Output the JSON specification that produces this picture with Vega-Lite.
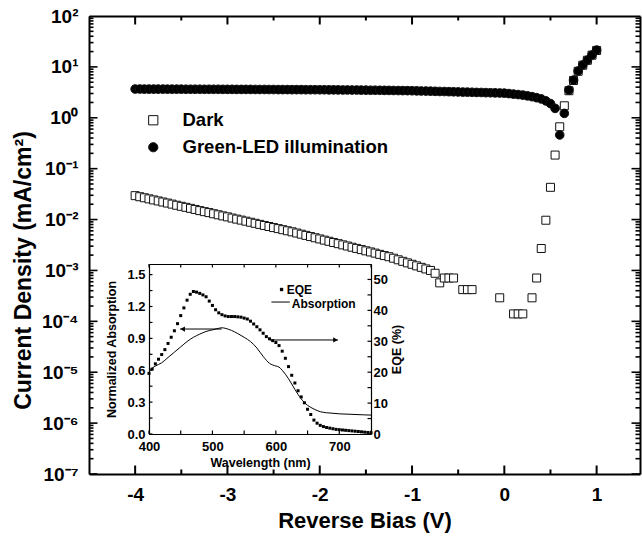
{
  "$schema": "https://vega.github.io/schema/vega-lite/v6.json",
  "width": 551,
  "height": 458,
  "autosize": {"type": "none"},
  "padding": {"left": 89, "top": 16, "right": 2, "bottom": 63},
  "background": "white",
  "config": {
    "view": {"stroke": null},
    "axis": {"grid": false, "labelFont": "Liberation Sans", "titleFont": "Liberation Sans", "labelFontWeight": "bold", "titleFontWeight": "bold", "labelColor": "black", "titleColor": "black", "domainColor": "black", "labelFlush": false, "labelOverlap": false},
    "text": {"font": "Liberation Sans"}
  },
  "datasets": {
    "main": [
      {"s":"Dark","v":-4.00,"j":0.0295},{"s":"Dark","v":-3.95,"j":0.0281},{"s":"Dark","v":-3.90,"j":0.0268},{"s":"Dark","v":-3.85,"j":0.0255},{"s":"Dark","v":-3.80,"j":0.0243},{"s":"Dark","v":-3.75,"j":0.0232},{"s":"Dark","v":-3.70,"j":0.0221},{"s":"Dark","v":-3.65,"j":0.0211},{"s":"Dark","v":-3.60,"j":0.0201},{"s":"Dark","v":-3.55,"j":0.0191},{"s":"Dark","v":-3.50,"j":0.0182},{"s":"Dark","v":-3.45,"j":0.0174},{"s":"Dark","v":-3.40,"j":0.0166},{"s":"Dark","v":-3.35,"j":0.0158},{"s":"Dark","v":-3.30,"j":0.0150},{"s":"Dark","v":-3.25,"j":0.0143},{"s":"Dark","v":-3.20,"j":0.0137},{"s":"Dark","v":-3.15,"j":0.0130},{"s":"Dark","v":-3.10,"j":0.0124},{"s":"Dark","v":-3.05,"j":0.0118},{"s":"Dark","v":-3.00,"j":0.0113},{"s":"Dark","v":-2.95,"j":0.0107},{"s":"Dark","v":-2.90,"j":0.0102},{"s":"Dark","v":-2.85,"j":0.00975},{"s":"Dark","v":-2.80,"j":0.00929},{"s":"Dark","v":-2.75,"j":0.00885},{"s":"Dark","v":-2.70,"j":0.00844},{"s":"Dark","v":-2.65,"j":0.00804},{"s":"Dark","v":-2.60,"j":0.00766},{"s":"Dark","v":-2.55,"j":0.00730},{"s":"Dark","v":-2.50,"j":0.00696},{"s":"Dark","v":-2.45,"j":0.00663},{"s":"Dark","v":-2.40,"j":0.00632},{"s":"Dark","v":-2.35,"j":0.00602},{"s":"Dark","v":-2.30,"j":0.00574},{"s":"Dark","v":-2.25,"j":0.00544},{"s":"Dark","v":-2.20,"j":0.00516},{"s":"Dark","v":-2.15,"j":0.00489},{"s":"Dark","v":-2.10,"j":0.00463},{"s":"Dark","v":-2.05,"j":0.00439},{"s":"Dark","v":-2.00,"j":0.00416},{"s":"Dark","v":-1.95,"j":0.00394},{"s":"Dark","v":-1.90,"j":0.00374},{"s":"Dark","v":-1.85,"j":0.00354},{"s":"Dark","v":-1.80,"j":0.00336},{"s":"Dark","v":-1.75,"j":0.00318},{"s":"Dark","v":-1.70,"j":0.00302},{"s":"Dark","v":-1.65,"j":0.00286},{"s":"Dark","v":-1.60,"j":0.00271},{"s":"Dark","v":-1.55,"j":0.00257},{"s":"Dark","v":-1.50,"j":0.00243},{"s":"Dark","v":-1.45,"j":0.00231},{"s":"Dark","v":-1.40,"j":0.00219},{"s":"Dark","v":-1.35,"j":0.00207},{"s":"Dark","v":-1.30,"j":0.00196},{"s":"Dark","v":-1.25,"j":0.00186},{"s":"Dark","v":-1.20,"j":0.00174},{"s":"Dark","v":-1.15,"j":0.00162},{"s":"Dark","v":-1.10,"j":0.00151},{"s":"Dark","v":-1.05,"j":0.00141},{"s":"Dark","v":-1.00,"j":0.00132},{"s":"Dark","v":-0.95,"j":0.00123},{"s":"Dark","v":-0.90,"j":0.00115},{"s":"Dark","v":-0.85,"j":0.00107},{"s":"Dark","v":-0.80,"j":0.00100},{"s":"Dark","v":-0.75,"j":0.00088},{"s":"Dark","v":-0.70,"j":0.00057},{"s":"Dark","v":-0.65,"j":0.00071},{"s":"Dark","v":-0.60,"j":0.00071},{"s":"Dark","v":-0.55,"j":0.00071},{"s":"Dark","v":-0.45,"j":0.00042},{"s":"Dark","v":-0.40,"j":0.00042},{"s":"Dark","v":-0.35,"j":0.00042},{"s":"Dark","v":-0.05,"j":0.00029},{"s":"Dark","v":0.10,"j":0.00014},{"s":"Dark","v":0.15,"j":0.00014},{"s":"Dark","v":0.20,"j":0.00014},{"s":"Dark","v":0.30,"j":0.00029},{"s":"Dark","v":0.35,"j":0.00071},{"s":"Dark","v":0.40,"j":0.0027},{"s":"Dark","v":0.45,"j":0.0097},{"s":"Dark","v":0.50,"j":0.043},{"s":"Dark","v":0.55,"j":0.185},{"s":"Dark","v":0.60,"j":0.665},{"s":"Dark","v":0.65,"j":1.72},{"s":"Dark","v":0.70,"j":3.4},{"s":"Dark","v":0.75,"j":5.4},{"s":"Dark","v":0.80,"j":8.2},{"s":"Dark","v":0.85,"j":10.8},{"s":"Dark","v":0.90,"j":13.5},{"s":"Dark","v":0.95,"j":17.0},{"s":"Dark","v":1.00,"j":21.0},
      {"s":"Green-LED illumination","v":-4.00,"j":3.67},{"s":"Green-LED illumination","v":-3.95,"j":3.67},{"s":"Green-LED illumination","v":-3.90,"j":3.66},{"s":"Green-LED illumination","v":-3.85,"j":3.66},{"s":"Green-LED illumination","v":-3.80,"j":3.66},{"s":"Green-LED illumination","v":-3.75,"j":3.66},{"s":"Green-LED illumination","v":-3.70,"j":3.66},{"s":"Green-LED illumination","v":-3.65,"j":3.65},{"s":"Green-LED illumination","v":-3.60,"j":3.65},{"s":"Green-LED illumination","v":-3.55,"j":3.65},{"s":"Green-LED illumination","v":-3.50,"j":3.65},{"s":"Green-LED illumination","v":-3.45,"j":3.64},{"s":"Green-LED illumination","v":-3.40,"j":3.64},{"s":"Green-LED illumination","v":-3.35,"j":3.64},{"s":"Green-LED illumination","v":-3.30,"j":3.64},{"s":"Green-LED illumination","v":-3.25,"j":3.63},{"s":"Green-LED illumination","v":-3.20,"j":3.63},{"s":"Green-LED illumination","v":-3.15,"j":3.63},{"s":"Green-LED illumination","v":-3.10,"j":3.63},{"s":"Green-LED illumination","v":-3.05,"j":3.62},{"s":"Green-LED illumination","v":-3.00,"j":3.62},{"s":"Green-LED illumination","v":-2.95,"j":3.62},{"s":"Green-LED illumination","v":-2.90,"j":3.61},{"s":"Green-LED illumination","v":-2.85,"j":3.61},{"s":"Green-LED illumination","v":-2.80,"j":3.61},{"s":"Green-LED illumination","v":-2.75,"j":3.61},{"s":"Green-LED illumination","v":-2.70,"j":3.60},{"s":"Green-LED illumination","v":-2.65,"j":3.60},{"s":"Green-LED illumination","v":-2.60,"j":3.60},{"s":"Green-LED illumination","v":-2.55,"j":3.59},{"s":"Green-LED illumination","v":-2.50,"j":3.59},{"s":"Green-LED illumination","v":-2.45,"j":3.58},{"s":"Green-LED illumination","v":-2.40,"j":3.58},{"s":"Green-LED illumination","v":-2.35,"j":3.58},{"s":"Green-LED illumination","v":-2.30,"j":3.57},{"s":"Green-LED illumination","v":-2.25,"j":3.57},{"s":"Green-LED illumination","v":-2.20,"j":3.57},{"s":"Green-LED illumination","v":-2.15,"j":3.56},{"s":"Green-LED illumination","v":-2.10,"j":3.56},{"s":"Green-LED illumination","v":-2.05,"j":3.56},{"s":"Green-LED illumination","v":-2.00,"j":3.55},{"s":"Green-LED illumination","v":-1.95,"j":3.55},{"s":"Green-LED illumination","v":-1.90,"j":3.54},{"s":"Green-LED illumination","v":-1.85,"j":3.54},{"s":"Green-LED illumination","v":-1.80,"j":3.53},{"s":"Green-LED illumination","v":-1.75,"j":3.52},{"s":"Green-LED illumination","v":-1.70,"j":3.52},{"s":"Green-LED illumination","v":-1.65,"j":3.51},{"s":"Green-LED illumination","v":-1.60,"j":3.51},{"s":"Green-LED illumination","v":-1.55,"j":3.50},{"s":"Green-LED illumination","v":-1.50,"j":3.49},{"s":"Green-LED illumination","v":-1.45,"j":3.48},{"s":"Green-LED illumination","v":-1.40,"j":3.48},{"s":"Green-LED illumination","v":-1.35,"j":3.47},{"s":"Green-LED illumination","v":-1.30,"j":3.46},{"s":"Green-LED illumination","v":-1.25,"j":3.45},{"s":"Green-LED illumination","v":-1.20,"j":3.44},{"s":"Green-LED illumination","v":-1.15,"j":3.43},{"s":"Green-LED illumination","v":-1.10,"j":3.42},{"s":"Green-LED illumination","v":-1.05,"j":3.41},{"s":"Green-LED illumination","v":-1.00,"j":3.40},{"s":"Green-LED illumination","v":-0.95,"j":3.38},{"s":"Green-LED illumination","v":-0.90,"j":3.36},{"s":"Green-LED illumination","v":-0.85,"j":3.35},{"s":"Green-LED illumination","v":-0.80,"j":3.33},{"s":"Green-LED illumination","v":-0.75,"j":3.31},{"s":"Green-LED illumination","v":-0.70,"j":3.29},{"s":"Green-LED illumination","v":-0.65,"j":3.28},{"s":"Green-LED illumination","v":-0.60,"j":3.26},{"s":"Green-LED illumination","v":-0.55,"j":3.24},{"s":"Green-LED illumination","v":-0.50,"j":3.22},{"s":"Green-LED illumination","v":-0.45,"j":3.20},{"s":"Green-LED illumination","v":-0.40,"j":3.19},{"s":"Green-LED illumination","v":-0.35,"j":3.17},{"s":"Green-LED illumination","v":-0.30,"j":3.15},{"s":"Green-LED illumination","v":-0.25,"j":3.14},{"s":"Green-LED illumination","v":-0.20,"j":3.12},{"s":"Green-LED illumination","v":-0.15,"j":3.10},{"s":"Green-LED illumination","v":-0.10,"j":3.09},{"s":"Green-LED illumination","v":-0.05,"j":3.07},{"s":"Green-LED illumination","v":0.00,"j":3.05},{"s":"Green-LED illumination","v":0.05,"j":2.99},{"s":"Green-LED illumination","v":0.10,"j":2.92},{"s":"Green-LED illumination","v":0.15,"j":2.86},{"s":"Green-LED illumination","v":0.20,"j":2.79},{"s":"Green-LED illumination","v":0.25,"j":2.70},{"s":"Green-LED illumination","v":0.30,"j":2.60},{"s":"Green-LED illumination","v":0.35,"j":2.48},{"s":"Green-LED illumination","v":0.40,"j":2.35},{"s":"Green-LED illumination","v":0.45,"j":2.15},{"s":"Green-LED illumination","v":0.50,"j":1.90},{"s":"Green-LED illumination","v":0.55,"j":1.53},{"s":"Green-LED illumination","v":0.60,"j":0.46},{"s":"Green-LED illumination","v":0.65,"j":1.22},{"s":"Green-LED illumination","v":0.70,"j":3.5},{"s":"Green-LED illumination","v":0.75,"j":5.5},{"s":"Green-LED illumination","v":0.80,"j":8.3},{"s":"Green-LED illumination","v":0.85,"j":10.9},{"s":"Green-LED illumination","v":0.90,"j":13.6},{"s":"Green-LED illumination","v":0.95,"j":17.1},{"s":"Green-LED illumination","v":1.00,"j":21.4}
    ],
    "abs": [
      {"w":400,"a":0.60},{"w":410,"a":0.64},{"w":420,"a":0.67},{"w":430,"a":0.72},{"w":440,"a":0.77},{"w":450,"a":0.82},{"w":460,"a":0.87},{"w":470,"a":0.91},{"w":480,"a":0.94},{"w":490,"a":0.965},{"w":500,"a":0.98},{"w":510,"a":0.995},{"w":515,"a":1.0},{"w":520,"a":0.995},{"w":530,"a":0.975},{"w":540,"a":0.945},{"w":550,"a":0.91},{"w":560,"a":0.87},{"w":570,"a":0.81},{"w":580,"a":0.73},{"w":590,"a":0.665},{"w":600,"a":0.64},{"w":605,"a":0.63},{"w":610,"a":0.60},{"w":620,"a":0.52},{"w":630,"a":0.42},{"w":640,"a":0.33},{"w":650,"a":0.27},{"w":660,"a":0.235},{"w":670,"a":0.21},{"w":680,"a":0.20},{"w":690,"a":0.195},{"w":700,"a":0.19},{"w":720,"a":0.185},{"w":740,"a":0.18},{"w":750,"a":0.178}
    ],
    "eqe": [
      {"w":400,"e":19.6},{"w":405,"e":21.0},{"w":410,"e":22.7},{"w":415,"e":24.2},{"w":420,"e":25.7},{"w":425,"e":27.3},{"w":430,"e":29.3},{"w":435,"e":31.3},{"w":440,"e":33.4},{"w":445,"e":35.7},{"w":450,"e":38.3},{"w":455,"e":40.8},{"w":460,"e":43.3},{"w":465,"e":45.2},{"w":470,"e":46.1},{"w":475,"e":45.9},{"w":480,"e":45.5},{"w":485,"e":45.0},{"w":490,"e":44.4},{"w":495,"e":43.0},{"w":500,"e":41.6},{"w":505,"e":40.2},{"w":510,"e":39.2},{"w":515,"e":38.6},{"w":520,"e":38.2},{"w":525,"e":38.0},{"w":530,"e":38.0},{"w":535,"e":38.0},{"w":540,"e":37.9},{"w":545,"e":37.8},{"w":550,"e":37.5},{"w":555,"e":37.2},{"w":560,"e":36.5},{"w":565,"e":35.6},{"w":570,"e":34.7},{"w":575,"e":33.7},{"w":580,"e":32.6},{"w":585,"e":31.5},{"w":590,"e":30.8},{"w":595,"e":30.2},{"w":600,"e":29.6},{"w":605,"e":28.6},{"w":610,"e":26.8},{"w":615,"e":24.5},{"w":620,"e":21.8},{"w":625,"e":19.0},{"w":630,"e":16.5},{"w":635,"e":14.0},{"w":640,"e":12.0},{"w":645,"e":10.1},{"w":650,"e":8.0},{"w":655,"e":6.3},{"w":660,"e":4.5},{"w":665,"e":3.5},{"w":670,"e":2.8},{"w":675,"e":2.4},{"w":680,"e":2.1},{"w":685,"e":1.9},{"w":690,"e":1.7},{"w":695,"e":1.5},{"w":700,"e":1.4},{"w":705,"e":1.3},{"w":710,"e":1.2},{"w":715,"e":1.1},{"w":720,"e":1.0},{"w":725,"e":0.9},{"w":730,"e":0.8},{"w":735,"e":0.7},{"w":740,"e":0.6},{"w":745,"e":0.5},{"w":750,"e":0.4}
    ],
    "rules": [
      {"x1":449,"x2":514.5,"y":0.988},{"x1":590.6,"x2":698,"y":0.885},{"x1":593,"x2":622,"y":1.242}
    ],
    "headL": [{"x":453,"y":0.988}],
    "headR": [{"x":694,"y":0.885}],
    "lmark": [{"x":609,"y":1.36}],
    "ltext": [{"x":617,"y":1.36,"t":"EQE"},{"x":625,"y":1.228,"t":"Absorption"}],
    "xt": [{"v":-4,"k":"M"},{"v":-3.5,"k":"m"},{"v":-3,"k":"M"},{"v":-2.5,"k":"m"},{"v":-2,"k":"M"},{"v":-1.5,"k":"m"},{"v":-1,"k":"M"},{"v":-0.5,"k":"m"},{"v":0,"k":"M"},{"v":0.5,"k":"m"},{"v":1,"k":"M"}],
    "yt": [
      {"j":1e-7,"k":"M"},{"j":2e-7,"k":"m"},{"j":3e-7,"k":"m"},{"j":4e-7,"k":"m"},{"j":5e-7,"k":"m"},{"j":6e-7,"k":"m"},{"j":7e-7,"k":"m"},{"j":8e-7,"k":"m"},{"j":9e-7,"k":"m"},
      {"j":1e-6,"k":"M"},{"j":2e-6,"k":"m"},{"j":3e-6,"k":"m"},{"j":4e-6,"k":"m"},{"j":5e-6,"k":"m"},{"j":6e-6,"k":"m"},{"j":7e-6,"k":"m"},{"j":8e-6,"k":"m"},{"j":9e-6,"k":"m"},
      {"j":1e-5,"k":"M"},{"j":2e-5,"k":"m"},{"j":3e-5,"k":"m"},{"j":4e-5,"k":"m"},{"j":5e-5,"k":"m"},{"j":6e-5,"k":"m"},{"j":7e-5,"k":"m"},{"j":8e-5,"k":"m"},{"j":9e-5,"k":"m"},
      {"j":1e-4,"k":"M"},{"j":2e-4,"k":"m"},{"j":3e-4,"k":"m"},{"j":4e-4,"k":"m"},{"j":5e-4,"k":"m"},{"j":6e-4,"k":"m"},{"j":7e-4,"k":"m"},{"j":8e-4,"k":"m"},{"j":9e-4,"k":"m"},
      {"j":1e-3,"k":"M"},{"j":2e-3,"k":"m"},{"j":3e-3,"k":"m"},{"j":4e-3,"k":"m"},{"j":5e-3,"k":"m"},{"j":6e-3,"k":"m"},{"j":7e-3,"k":"m"},{"j":8e-3,"k":"m"},{"j":9e-3,"k":"m"},
      {"j":0.01,"k":"M"},{"j":0.02,"k":"m"},{"j":0.03,"k":"m"},{"j":0.04,"k":"m"},{"j":0.05,"k":"m"},{"j":0.06,"k":"m"},{"j":0.07,"k":"m"},{"j":0.08,"k":"m"},{"j":0.09,"k":"m"},
      {"j":0.1,"k":"M"},{"j":0.2,"k":"m"},{"j":0.3,"k":"m"},{"j":0.4,"k":"m"},{"j":0.5,"k":"m"},{"j":0.6,"k":"m"},{"j":0.7,"k":"m"},{"j":0.8,"k":"m"},{"j":0.9,"k":"m"},
      {"j":1,"k":"M"},{"j":2,"k":"m"},{"j":3,"k":"m"},{"j":4,"k":"m"},{"j":5,"k":"m"},{"j":6,"k":"m"},{"j":7,"k":"m"},{"j":8,"k":"m"},{"j":9,"k":"m"},
      {"j":10,"k":"M"},{"j":20,"k":"m"},{"j":30,"k":"m"},{"j":40,"k":"m"},{"j":50,"k":"m"},{"j":60,"k":"m"},{"j":70,"k":"m"},{"j":80,"k":"m"},{"j":90,"k":"m"},
      {"j":100,"k":"M"}
    ],
    "wt": [{"w":400},{"w":450},{"w":500},{"w":550},{"w":600},{"w":650},{"w":700},{"w":750}],
    "at": [{"a":0},{"a":0.15},{"a":0.3},{"a":0.45},{"a":0.6},{"a":0.75},{"a":0.9},{"a":1.05},{"a":1.2},{"a":1.35},{"a":1.5}],
    "et": [{"e":0},{"e":5},{"e":10},{"e":15},{"e":20},{"e":25},{"e":30},{"e":35},{"e":40},{"e":45},{"e":50}]
  },
  "layer": [
    {
      "data": {"name": "main"},
      "mark": {"type": "point", "opacity": 1, "strokeWidth": 1},
      "encoding": {
        "x": {"field": "v", "type": "quantitative", "scale": {"domain": [-4.5, 1.47], "nice": false, "zero": false},
          "axis": {"orient": "bottom", "values": [-4,-3,-2,-1,0,1], "labelExpr": "'' + datum.value", "ticks": false,
            "labelPadding": 11, "labelFontSize": 19, "domainWidth": 2,
            "title": "Reverse Bias (V)", "titleFontSize": 22, "titlePadding": 6}},
        "y": {"field": "j", "type": "quantitative", "scale": {"type": "log", "domain": [1e-7, 100], "nice": false},
          "axis": {"orient": "left", "values": [1e-7,1e-6,1e-5,1e-4,1e-3,0.01,0.1,1,10,100], "ticks": false,
            "labelExpr": "'10' + ['⁻⁷','⁻⁶','⁻⁵','⁻⁴','⁻³','⁻²','⁻¹','⁰','¹','²'][round(log(datum.value)/LN10) + 7]",
            "labelPadding": 11, "labelFontSize": 19, "domainWidth": 2,
            "title": "Current Density (mA/cm²)", "titleFontSize": 23, "titlePadding": 6, "titleY": 254}},
        "shape": {"field": "s", "type": "nominal", "scale": {"domain": ["Dark", "Green-LED illumination"], "range": ["square", "circle"]},
          "legend": {"title": null, "orient": "none", "legendX": 55, "legendY": 95, "labelFontSize": 18.5, "labelFont": "Liberation Sans", "labelFontWeight": "bold", "labelColor": "black", "labelLimit": 400, "symbolSize": 85, "symbolStrokeWidth": 1, "symbolOpacity": 1, "labelOffset": 20, "rowPadding": 8}},
        "fill": {"field": "s", "type": "nominal", "scale": {"domain": ["Dark", "Green-LED illumination"], "range": ["white", "black"]},
          "legend": {"title": null, "orient": "none", "legendX": 55, "legendY": 95, "labelFontSize": 18.5, "labelFont": "Liberation Sans", "labelFontWeight": "bold", "labelColor": "black", "labelLimit": 400, "symbolSize": 85, "symbolStrokeWidth": 1, "symbolOpacity": 1, "labelOffset": 20, "rowPadding": 8}},
        "stroke": {"field": "s", "type": "nominal", "scale": {"domain": ["Dark", "Green-LED illumination"], "range": ["#111111", "#111111"]},
          "legend": {"title": null, "orient": "none", "legendX": 55, "legendY": 95, "labelFontSize": 18.5, "labelFont": "Liberation Sans", "labelFontWeight": "bold", "labelColor": "black", "labelLimit": 400, "symbolSize": 85, "symbolStrokeWidth": 1, "symbolOpacity": 1, "labelOffset": 20, "rowPadding": 8}},
        "size": {"condition": {"test": "datum.s == 'Dark'", "value": 64}, "value": 75}
      }
    },
    {
      "data": {"name": "main"},
      "mark": {"type": "point", "opacity": 0},
      "encoding": {
        "x": {"field": "v", "type": "quantitative", "scale": {"domain": [-4.5, 1.47], "nice": false, "zero": false},
          "axis": {"orient": "top", "values": [-4,-3,-2,-1,0,1], "labels": false, "ticks": false, "title": null, "domainWidth": 2}},
        "y": {"field": "j", "type": "quantitative", "scale": {"type": "log", "domain": [1e-7, 100], "nice": false},
          "axis": {"orient": "right", "values": [1,10], "labels": false, "ticks": false, "title": null, "domainWidth": 2}}
      }
    },
    {
      "data": {"name": "xt"},
      "mark": {"type": "tick", "orient": "vertical", "thickness": 2, "color": "black", "opacity": 1, "clip": true},
      "encoding": {
        "x": {"field": "v", "type": "quantitative", "scale": {"domain": [-4.5, 1.47], "nice": false, "zero": false}, "axis": null},
        "y": {"datum": 1e-7, "type": "quantitative", "scale": {"type": "log", "domain": [1e-7, 100], "nice": false}, "axis": null},
        "size": {"condition": {"test": "datum.k == 'M'", "value": 17}, "value": 9}
      }
    },
    {
      "data": {"name": "xt"},
      "mark": {"type": "tick", "orient": "vertical", "thickness": 2, "color": "black", "opacity": 1, "clip": true},
      "encoding": {
        "x": {"field": "v", "type": "quantitative", "scale": {"domain": [-4.5, 1.47], "nice": false, "zero": false}, "axis": null},
        "y": {"datum": 100, "type": "quantitative", "scale": {"type": "log", "domain": [1e-7, 100], "nice": false}, "axis": null},
        "size": {"condition": {"test": "datum.k == 'M'", "value": 17}, "value": 9}
      }
    },
    {
      "data": {"name": "yt"},
      "mark": {"type": "tick", "orient": "horizontal", "thickness": 1.6, "color": "black", "opacity": 1, "clip": true},
      "encoding": {
        "x": {"datum": -4.5, "type": "quantitative", "scale": {"domain": [-4.5, 1.47], "nice": false, "zero": false}, "axis": null},
        "y": {"field": "j", "type": "quantitative", "scale": {"type": "log", "domain": [1e-7, 100], "nice": false}, "axis": null},
        "size": {"condition": {"test": "datum.k == 'M'", "value": 17}, "value": 9}
      }
    },
    {
      "data": {"name": "yt"},
      "mark": {"type": "tick", "orient": "horizontal", "thickness": 1.6, "color": "black", "opacity": 1, "clip": true},
      "encoding": {
        "x": {"datum": 1.47, "type": "quantitative", "scale": {"domain": [-4.5, 1.47], "nice": false, "zero": false}, "axis": null},
        "y": {"field": "j", "type": "quantitative", "scale": {"type": "log", "domain": [1e-7, 100], "nice": false}, "axis": null},
        "size": {"condition": {"test": "datum.k == 'M'", "value": 17}, "value": 9}
      }
    },
    {
      "data": {"name": "abs"},
      "mark": {"type": "line", "color": "black", "strokeWidth": 1, "interpolate": "monotone"},
      "encoding": {
        "x": {"field": "w", "type": "quantitative", "scale": {"domain": [400, 750], "range": [60, 282], "nice": false, "zero": false},
          "axis": {"orient": "bottom", "offset": -40, "values": [400,500,600,700], "labelExpr": "'' + datum.value", "ticks": false,
            "labelPadding": 6, "labelFontSize": 13, "domainWidth": 1.2,
            "title": "Wavelength (nm)", "titleFontSize": 12.5, "titlePadding": 3}},
        "y": {"field": "a", "type": "quantitative", "scale": {"domain": [0, 1.6], "range": [418, 248], "nice": false, "zero": false},
          "axis": {"orient": "left", "offset": -60, "values": [0,0.3,0.6,0.9,1.2,1.5], "format": ".1f", "ticks": false,
            "labelPadding": 4, "labelFontSize": 13, "domainWidth": 1.2,
            "title": "Normalized Absorption", "titleFontSize": 12.5, "titlePadding": 8}}
      }
    },
    {
      "data": {"name": "eqe"},
      "mark": {"type": "square", "size": 9, "color": "black", "opacity": 1},
      "encoding": {
        "x": {"field": "w", "type": "quantitative", "scale": {"domain": [400, 750], "range": [60, 282], "nice": false, "zero": false},
          "axis": {"orient": "top", "offset": -248, "values": [500], "labels": false, "ticks": false, "title": null, "domainWidth": 1.2}},
        "y": {"field": "e", "type": "quantitative", "scale": {"domain": [0, 55], "range": [418, 248], "nice": false, "zero": false},
          "axis": {"orient": "right", "offset": -269, "values": [0,10,20,30,40,50], "labelExpr": "'' + datum.value", "ticks": false,
            "labelPadding": 2, "labelFontSize": 13, "domainWidth": 1.2,
            "title": "EQE (%)", "titleAngle": -90, "titleBaseline": "top", "titleFontSize": 12.5, "titlePadding": 3}}
      }
    },
    {
      "data": {"name": "wt"},
      "mark": {"type": "tick", "orient": "vertical", "thickness": 1.2, "size": 3.5, "yOffset": -1.75, "color": "black", "opacity": 1},
      "encoding": {
        "x": {"field": "w", "type": "quantitative", "scale": {"domain": [400, 750], "range": [60, 282], "nice": false, "zero": false}, "axis": null},
        "y": {"datum": 0, "type": "quantitative", "scale": {"domain": [0, 1.6], "range": [418, 248], "nice": false, "zero": false}, "axis": null}
      }
    },
    {
      "data": {"name": "wt"},
      "mark": {"type": "tick", "orient": "vertical", "thickness": 1.2, "size": 3.5, "yOffset": 1.75, "color": "black", "opacity": 1},
      "encoding": {
        "x": {"field": "w", "type": "quantitative", "scale": {"domain": [400, 750], "range": [60, 282], "nice": false, "zero": false}, "axis": null},
        "y": {"datum": 1.6, "type": "quantitative", "scale": {"domain": [0, 1.6], "range": [418, 248], "nice": false, "zero": false}, "axis": null}
      }
    },
    {
      "data": {"name": "at"},
      "mark": {"type": "tick", "orient": "horizontal", "thickness": 1.2, "size": 3.5, "xOffset": 1.75, "color": "black", "opacity": 1},
      "encoding": {
        "x": {"datum": 400, "type": "quantitative", "scale": {"domain": [400, 750], "range": [60, 282], "nice": false, "zero": false}, "axis": null},
        "y": {"field": "a", "type": "quantitative", "scale": {"domain": [0, 1.6], "range": [418, 248], "nice": false, "zero": false}, "axis": null}
      }
    },
    {
      "data": {"name": "et"},
      "mark": {"type": "tick", "orient": "horizontal", "thickness": 1.2, "size": 3.5, "xOffset": -1.75, "color": "black", "opacity": 1},
      "encoding": {
        "x": {"datum": 750, "type": "quantitative", "scale": {"domain": [400, 750], "range": [60, 282], "nice": false, "zero": false}, "axis": null},
        "y": {"field": "e", "type": "quantitative", "scale": {"domain": [0, 55], "range": [418, 248], "nice": false, "zero": false}, "axis": null}
      }
    },
    {
      "data": {"name": "rules"},
      "mark": {"type": "rule", "color": "black", "strokeWidth": 1},
      "encoding": {
        "x": {"field": "x1", "type": "quantitative", "scale": {"domain": [400, 750], "range": [60, 282], "nice": false, "zero": false}, "axis": null},
        "x2": {"field": "x2"},
        "y": {"field": "y", "type": "quantitative", "scale": {"domain": [0, 1.6], "range": [418, 248], "nice": false, "zero": false}, "axis": null}
      }
    },
    {
      "data": {"name": "headL"},
      "mark": {"type": "point", "shape": "triangle-left", "filled": true, "size": 28, "color": "black", "opacity": 1},
      "encoding": {
        "x": {"field": "x", "type": "quantitative", "scale": {"domain": [400, 750], "range": [60, 282], "nice": false, "zero": false}, "axis": null},
        "y": {"field": "y", "type": "quantitative", "scale": {"domain": [0, 1.6], "range": [418, 248], "nice": false, "zero": false}, "axis": null}
      }
    },
    {
      "data": {"name": "headR"},
      "mark": {"type": "point", "shape": "triangle-right", "filled": true, "size": 28, "color": "black", "opacity": 1},
      "encoding": {
        "x": {"field": "x", "type": "quantitative", "scale": {"domain": [400, 750], "range": [60, 282], "nice": false, "zero": false}, "axis": null},
        "y": {"field": "y", "type": "quantitative", "scale": {"domain": [0, 1.6], "range": [418, 248], "nice": false, "zero": false}, "axis": null}
      }
    },
    {
      "data": {"name": "lmark"},
      "mark": {"type": "square", "size": 11, "color": "black", "opacity": 1},
      "encoding": {
        "x": {"field": "x", "type": "quantitative", "scale": {"domain": [400, 750], "range": [60, 282], "nice": false, "zero": false}, "axis": null},
        "y": {"field": "y", "type": "quantitative", "scale": {"domain": [0, 1.6], "range": [418, 248], "nice": false, "zero": false}, "axis": null}
      }
    },
    {
      "data": {"name": "ltext"},
      "mark": {"type": "text", "align": "left", "baseline": "middle", "fontSize": 12, "fontWeight": "bold", "font": "Liberation Sans", "color": "black"},
      "encoding": {
        "x": {"field": "x", "type": "quantitative", "scale": {"domain": [400, 750], "range": [60, 282], "nice": false, "zero": false}, "axis": null},
        "y": {"field": "y", "type": "quantitative", "scale": {"domain": [0, 1.6], "range": [418, 248], "nice": false, "zero": false}, "axis": null},
        "text": {"field": "t"}
      }
    }
  ],
  "resolve": {"scale": {"x": "independent", "y": "independent", "size": "independent"}, "axis": {"x": "independent", "y": "independent"}}
}
